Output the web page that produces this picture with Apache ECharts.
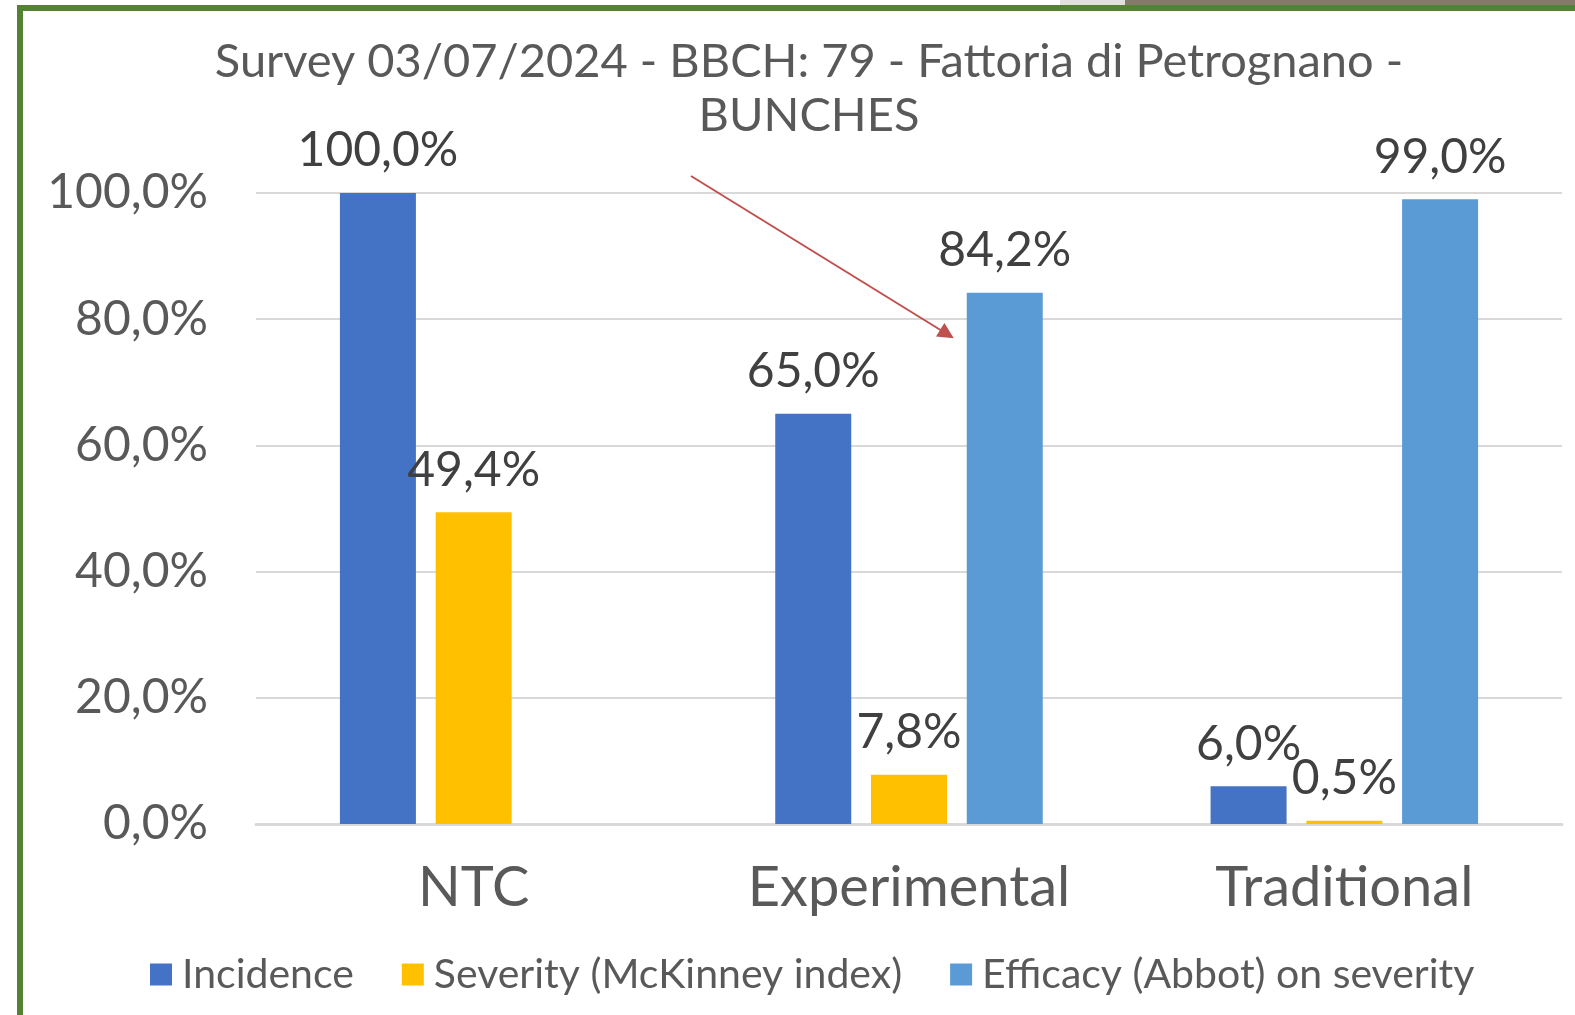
<!DOCTYPE html>
<html>
<head>
<meta charset="utf-8">
<title>Survey 03/07/2024 - BUNCHES</title>
<style>
  html, body { margin: 0; padding: 0; background: #fff; }
  #chart { width: 1575px; height: 1015px; }
</style>
<script src="https://cdn.jsdelivr.net/npm/echarts@6/dist/echarts.min.js"></script>
</head>
<body>
<div id="chart"></div>
<script>
// data
var categories = ['NTC', 'Experimental', 'Traditional'];
var incidence = [100.0, 65.0, 6.0];
var severity = [49.4, 7.8, 0.5];
var efficacy = [null, 84.2, 99.0];   // no bar for NTC
var seriesNames = ['Incidence', 'Severity (McKinney index)', 'Efficacy (Abbot) on severity'];
var colors = ['#4472c4', '#ffc000', '#5b9bd5'];

var font = 'Lato';

function pct(v) {
  return v.toFixed(1).replace('.', ',') + '%';
}

function barSeries(name, data, color) {
  return {
    name: name,
    type: 'bar',
    data: data,
    barWidth: 76,
    barGap: '26%',
    itemStyle: { color: color },
    label: {
      show: true,
      position: 'top',
      distance: 18,
      fontFamily: font,
      fontSize: 48,
      color: '#404040',
      formatter: function (p) { return p.value == null ? '' : pct(p.value); }
    }
  };
}

var chart = echarts.init(document.getElementById('chart'));
var series = [
  barSeries(seriesNames[0], incidence, colors[0]),
  barSeries(seriesNames[1], severity, colors[1]),
  barSeries(seriesNames[2], efficacy, colors[2])
];
// red arrow annotation
series[0].markLine = {
  silent: true,
  symbol: ['none', 'triangle'],
  symbolSize: 16,
  label: { show: false },
  lineStyle: { color: '#c0504d', width: 2, type: 'solid' },
  data: [[{ x: 691, y: 176 }, { x: 947, y: 334 }]]
};

chart.setOption({
  backgroundColor: '#fff',
  animation: false,
  title: {
    text: 'Survey 03/07/2024 - BBCH: 79 - Fattoria di Petrognano -\nBUNCHES',
    left: 804,
    textAlign: 'center',
    top: 30,
    textStyle: {
      fontFamily: font,
      fontSize: 47,
      fontWeight: 'normal',
      color: '#595959',
      lineHeight: 54
    }
  },
  legend: {
    bottom: 15,
    left: 145,
    itemWidth: 22,
    itemHeight: 22,
    itemGap: 48,
    icon: 'rect',
    data: seriesNames,
    textStyle: {
      fontFamily: font,
      fontSize: 41,
      color: '#595959',
      padding: [0, 0, 0, 5]
    }
  },
  grid: { left: 256, right: 13, top: 193, bottom: 191 },
  xAxis: {
    type: 'category',
    data: categories,
    axisTick: { show: false },
    axisLine: { lineStyle: { color: '#d9d9d9', width: 3 } },
    axisLabel: {
      margin: 36,
      fontFamily: font,
      fontSize: 56,
      color: '#595959'
    }
  },
  yAxis: {
    type: 'value',
    min: 0,
    max: 100,
    interval: 20,
    axisLine: { show: false },
    axisTick: { show: false },
    splitLine: { lineStyle: { color: '#d9d9d9', width: 2 } },
    axisLabel: {
      margin: 48,
      fontFamily: font,
      fontSize: 48,
      color: '#595959',
      formatter: function (v) { return pct(v); }
    }
  },
  graphic: [
    // strip of the neighbouring picture above the frame
    { type: 'rect', shape: { x: 1060, y: 0, width: 65, height: 5 }, style: { fill: '#e3dfdb' }, silent: true },
    { type: 'rect', shape: { x: 1125, y: 0, width: 450, height: 5 }, style: { fill: '#857b6b' }, silent: true },
    // green frame
    { type: 'rect', shape: { x: 17, y: 5, width: 1558, height: 6 }, style: { fill: '#548235' }, silent: true },
    { type: 'rect', shape: { x: 17, y: 5, width: 6, height: 1010 }, style: { fill: '#548235' }, silent: true }
  ],
  series: series
});
</script>
</body>
</html>
